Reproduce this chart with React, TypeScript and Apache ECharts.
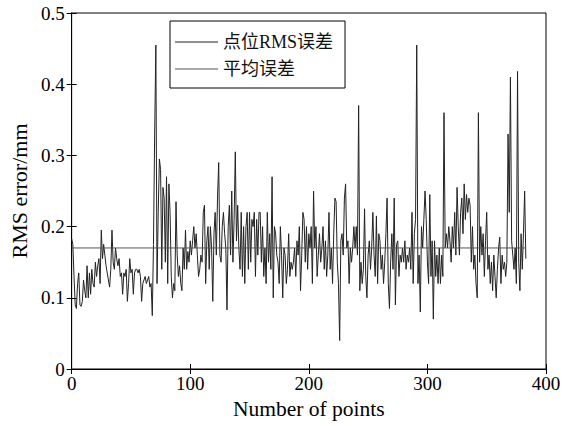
import React, { useEffect, useRef } from "react";
import * as echarts from "echarts";

const seriesNames = ["点位RMS误差", "平均误差"];
const xTicks = [0, 100, 200, 300, 400];
const yTicks = [0, 0.1, 0.2, 0.3, 0.4, 0.5];
const meanValue = 0.17;

// point RMS error, one value per point (index 0..383)
const rmsSegA = [
  0.183, 0.175, 0.13, 0.09, 0.085, 0.12, 0.135, 0.09, 0.088, 0.095,
  0.125, 0.11, 0.1, 0.145, 0.1, 0.135, 0.105, 0.14, 0.12, 0.115,
  0.15, 0.13, 0.145, 0.155, 0.12, 0.195, 0.155, 0.175, 0.16, 0.145,
  0.135, 0.125, 0.115, 0.14, 0.195, 0.15, 0.14, 0.17, 0.155, 0.145,
  0.155, 0.13, 0.135, 0.105, 0.135, 0.13, 0.14, 0.095, 0.12, 0.155,
  0.135, 0.14, 0.105, 0.135, 0.14, 0.14, 0.135, 0.14, 0.13, 0.095,
  0.12, 0.125, 0.13, 0.12, 0.125, 0.13, 0.115, 0.12, 0.075, 0.175,
  0.33, 0.455,
];
const rmsSegB = [
  0.12, 0.22, 0.295, 0.28, 0.14, 0.255,
  0.24, 0.15, 0.27, 0.12, 0.26, 0.22, 0.13, 0.1, 0.12, 0.11,
  0.235, 0.16, 0.13, 0.145, 0.12, 0.11, 0.17, 0.14, 0.195, 0.14,
  0.165, 0.15, 0.18, 0.16, 0.18, 0.2, 0.17, 0.19, 0.16, 0.13,
  0.14, 0.16, 0.15, 0.22, 0.23, 0.12, 0.18, 0.2, 0.14, 0.2,
  0.17, 0.095, 0.19, 0.22, 0.16, 0.24, 0.29, 0.16, 0.15, 0.2,
  0.22, 0.19, 0.17, 0.083, 0.2, 0.23, 0.16, 0.25, 0.15, 0.21,
  0.305, 0.18, 0.23, 0.17, 0.14, 0.22, 0.13, 0.2, 0.12, 0.2,
  0.22, 0.14, 0.22, 0.15, 0.21, 0.2, 0.22, 0.13, 0.21, 0.16, 0.22,
];
const rmsSegC = [
  0.22, 0.15, 0.2, 0.13, 0.17, 0.12, 0.22, 0.15, 0.19, 0.14,
  0.27, 0.1, 0.2, 0.19, 0.16, 0.15, 0.12, 0.2, 0.16, 0.1,
  0.17, 0.16, 0.12, 0.14, 0.19, 0.13, 0.15, 0.14, 0.15, 0.17,
  0.13, 0.18, 0.16, 0.2, 0.11, 0.16, 0.22, 0.21, 0.15, 0.2,
  0.14, 0.19, 0.17, 0.2, 0.12, 0.25, 0.17, 0.2, 0.13, 0.16,
  0.19, 0.15, 0.17, 0.2, 0.14, 0.18, 0.13, 0.16, 0.22, 0.14,
  0.17, 0.12, 0.19, 0.24, 0.235, 0.15, 0.12, 0.04, 0.18, 0.19,
  0.16, 0.24, 0.26, 0.17, 0.18, 0.12, 0.17, 0.15, 0.17, 0.2,
];
const rmsSegD = [
  0.17, 0.2, 0.16, 0.37, 0.11, 0.15, 0.12, 0.14, 0.225, 0.13,
  0.1, 0.16, 0.18, 0.14, 0.17, 0.22, 0.16, 0.13, 0.215, 0.12,
  0.19, 0.18, 0.14, 0.16, 0.12, 0.15, 0.19, 0.24, 0.12, 0.085,
  0.15, 0.19, 0.14, 0.24, 0.09, 0.175, 0.18, 0.13, 0.16, 0.15,
  0.17, 0.15, 0.18, 0.14, 0.16, 0.15, 0.17, 0.14, 0.22, 0.12,
  0.19, 0.21, 0.455, 0.12, 0.16, 0.08, 0.2, 0.17, 0.21, 0.25,
  0.21, 0.15, 0.12, 0.245, 0.13, 0.18, 0.07, 0.18, 0.13, 0.16,
  0.12, 0.17, 0.12, 0.16, 0.13, 0.36, 0.17, 0.19, 0.17, 0.2,
];
const rmsSegE = [
  0.18, 0.15, 0.2, 0.17, 0.22, 0.16, 0.255, 0.2, 0.16, 0.22,
  0.24, 0.19, 0.26, 0.21, 0.245, 0.22, 0.24, 0.23, 0.15, 0.2,
  0.14, 0.16, 0.12, 0.1, 0.36, 0.15, 0.2, 0.16, 0.19, 0.13,
  0.18, 0.22, 0.14, 0.16, 0.12, 0.15, 0.11, 0.16, 0.13, 0.1,
  0.14, 0.17, 0.185, 0.12, 0.16, 0.14, 0.15, 0.13, 0.15, 0.33,
  0.22, 0.41, 0.18, 0.16, 0.14, 0.17, 0.12, 0.418, 0.15, 0.11,
  0.19, 0.14, 0.19, 0.25, 0.155,
];

const rmsValues = [...rmsSegA, ...rmsSegB, ...rmsSegC, ...rmsSegD, ...rmsSegE];

const SERIF = "'Liberation Serif', 'Times New Roman', 'Noto Sans CJK SC', serif";

export default function App() {
  const ref = useRef<HTMLDivElement>(null);

  useEffect(() => {
    if (!ref.current) return;
    const chart = echarts.init(ref.current, undefined, { renderer: "svg" });
    const rmsData = rmsValues.map((v, i) => [i, v]);
    const meanData = [
      [0, meanValue],
      [rmsValues.length - 1, meanValue],
    ];
    const xMin = xTicks[0];
    const xMax = xTicks[xTicks.length - 1];
    const xInt = xTicks[1] - xTicks[0];
    const yMin = yTicks[0];
    const yMax = yTicks[yTicks.length - 1];
    const yInt = 0.1;

    chart.setOption({
      animation: false,
      backgroundColor: "#fff",
      grid: {
        left: 70,
        right: 28,
        top: 13,
        bottom: 57,
        show: true,
        borderColor: "#000",
        borderWidth: 1,
        backgroundColor: "transparent",
      },
      legend: {
        left: 170,
        top: 21,
        orient: "vertical",
        data: seriesNames,
        icon: "rect",
        itemWidth: 43,
        itemHeight: 1,
        itemGap: 9,
        padding: [12, 12, 10, 5],
        borderColor: "#000",
        borderWidth: 1,
        backgroundColor: "#fff",
        textStyle: { fontFamily: SERIF, fontSize: 18, color: "#111", lineHeight: 18 },
      },
      xAxis: [
        {
          type: "value",
          min: xMin,
          max: xMax,
          interval: xInt,
          name: "Number of points",
          nameLocation: "middle",
          nameGap: 29,
          nameTextStyle: { fontFamily: SERIF, fontSize: 21.5, color: "#000" },
          axisLine: { show: true, lineStyle: { color: "#000", width: 1 } },
          axisTick: { show: true, inside: true, length: 5, lineStyle: { color: "#000" } },
          axisLabel: { fontFamily: SERIF, fontSize: 19, color: "#000", margin: 5 },
          splitLine: { show: false },
        },
        {
          type: "value",
          position: "top",
          min: xMin,
          max: xMax,
          interval: xInt,
          axisLine: { show: true, lineStyle: { color: "#000", width: 1 } },
          axisTick: { show: true, inside: true, length: 5, lineStyle: { color: "#000" } },
          axisLabel: { show: false },
          splitLine: { show: false },
        },
      ],
      yAxis: [
        {
          type: "value",
          min: yMin,
          max: yMax,
          interval: yInt,
          name: "RMS error/mm",
          nameLocation: "middle",
          nameGap: 37,
          nameTextStyle: { fontFamily: SERIF, fontSize: 22, color: "#000" },
          axisLine: { show: true, lineStyle: { color: "#000", width: 1 } },
          axisTick: { show: true, inside: true, length: 5, lineStyle: { color: "#000" } },
          axisLabel: {
            fontFamily: SERIF,
            fontSize: 19,
            color: "#000",
            margin: 7,
            formatter: (v: number) => String(Math.round(v * 10) / 10),
          },
          splitLine: { show: false },
        },
        {
          type: "value",
          position: "right",
          min: yMin,
          max: yMax,
          interval: yInt,
          axisLine: { show: true, lineStyle: { color: "#000", width: 1 } },
          axisTick: { show: true, inside: true, length: 5, lineStyle: { color: "#000" } },
          axisLabel: { show: false },
          splitLine: { show: false },
        },
      ],
      series: [
        {
          name: seriesNames[0],
          type: "line",
          data: rmsData,
          symbol: "none",
          lineStyle: { color: "#222", width: 1 },
          itemStyle: { color: "#222" },
        },
        {
          name: seriesNames[1],
          type: "line",
          data: meanData,
          symbol: "none",
          lineStyle: { color: "#555", width: 1 },
          itemStyle: { color: "#555" },
        },
      ],
    });
    return () => chart.dispose();
  }, []);

  return (
    <div
      ref={ref}
      style={{ position: "fixed", left: 0, top: 0, width: 574, height: 426, background: "#fff" }}
    />
  );
}
